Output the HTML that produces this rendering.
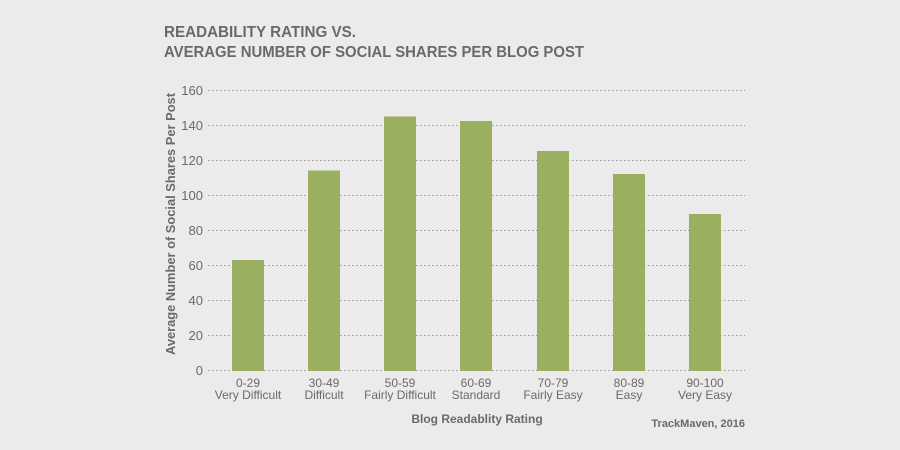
<!DOCTYPE html><html><head><style>body{margin:0;background:#ebebeb}svg{display:block}</style></head><body>
<svg width="900" height="450" viewBox="0 0 900 450" xmlns="http://www.w3.org/2000/svg" font-family="Liberation Sans, sans-serif">
<rect width="900" height="450" fill="#ebebeb"/>
<text x="164" y="37" font-size="16" font-weight="bold" fill="#6a6a6a" textLength="192" lengthAdjust="spacingAndGlyphs">READABILITY RATING VS.</text>
<text x="164" y="57" font-size="16" font-weight="bold" fill="#6a6a6a" textLength="420" lengthAdjust="spacingAndGlyphs">AVERAGE NUMBER OF SOCIAL SHARES PER BLOG POST</text>
<g stroke="#999" stroke-width="1" stroke-dasharray="1.5,2.5">
<line x1="208" x2="745" y1="90.5" y2="90.5"/><line x1="208" x2="745" y1="125.5" y2="125.5"/><line x1="208" x2="745" y1="160.5" y2="160.5"/><line x1="208" x2="745" y1="195.5" y2="195.5"/><line x1="208" x2="745" y1="230.5" y2="230.5"/><line x1="208" x2="745" y1="265.5" y2="265.5"/><line x1="208" x2="745" y1="300.5" y2="300.5"/><line x1="208" x2="745" y1="335.5" y2="335.5"/><line x1="208" x2="745" y1="370.5" y2="370.5"/>
</g>
<g font-size="13" fill="#6a6a6a" text-anchor="end">
<text x="203" y="95">160</text><text x="203" y="130">140</text><text x="203" y="165">120</text><text x="203" y="200">100</text><text x="203" y="235">80</text><text x="203" y="270">60</text><text x="203" y="305">40</text><text x="203" y="340">20</text><text x="203" y="375">0</text>
</g>
<text transform="translate(175,224) rotate(-90)" font-size="12.5" font-weight="bold" fill="#6a6a6a" text-anchor="middle" textLength="262" lengthAdjust="spacingAndGlyphs">Average Number of Social Shares Per Post</text>
<g fill="#9ab060">
<rect x="232" y="260" width="32" height="111"/>
<rect x="308" y="170.5" width="32" height="200.5"/>
<rect x="384" y="116.5" width="32" height="254.5"/>
<rect x="460" y="121" width="32" height="250"/>
<rect x="537" y="151" width="32" height="220"/>
<rect x="613" y="174" width="32" height="197"/>
<rect x="689" y="214" width="32" height="157"/>
</g>
<g font-size="12" fill="#6a6a6a" text-anchor="middle">
<text x="248" y="387">0-29</text><text x="248" y="399">Very Difficult</text>
<text x="324" y="387">30-49</text><text x="324" y="399">Difficult</text>
<text x="400" y="387">50-59</text><text x="400" y="399">Fairly Difficult</text>
<text x="476" y="387">60-69</text><text x="476" y="399">Standard</text>
<text x="553" y="387">70-79</text><text x="553" y="399">Fairly Easy</text>
<text x="629" y="387">80-89</text><text x="629" y="399">Easy</text>
<text x="705" y="387">90-100</text><text x="705" y="399">Very Easy</text>
</g>
<text x="477" y="423" font-size="12" font-weight="bold" fill="#6a6a6a" text-anchor="middle">Blog Readablity Rating</text>
<text x="745" y="427" font-size="11" font-weight="bold" fill="#6a6a6a" text-anchor="end">TrackMaven, 2016</text>
</svg>
</body></html>
